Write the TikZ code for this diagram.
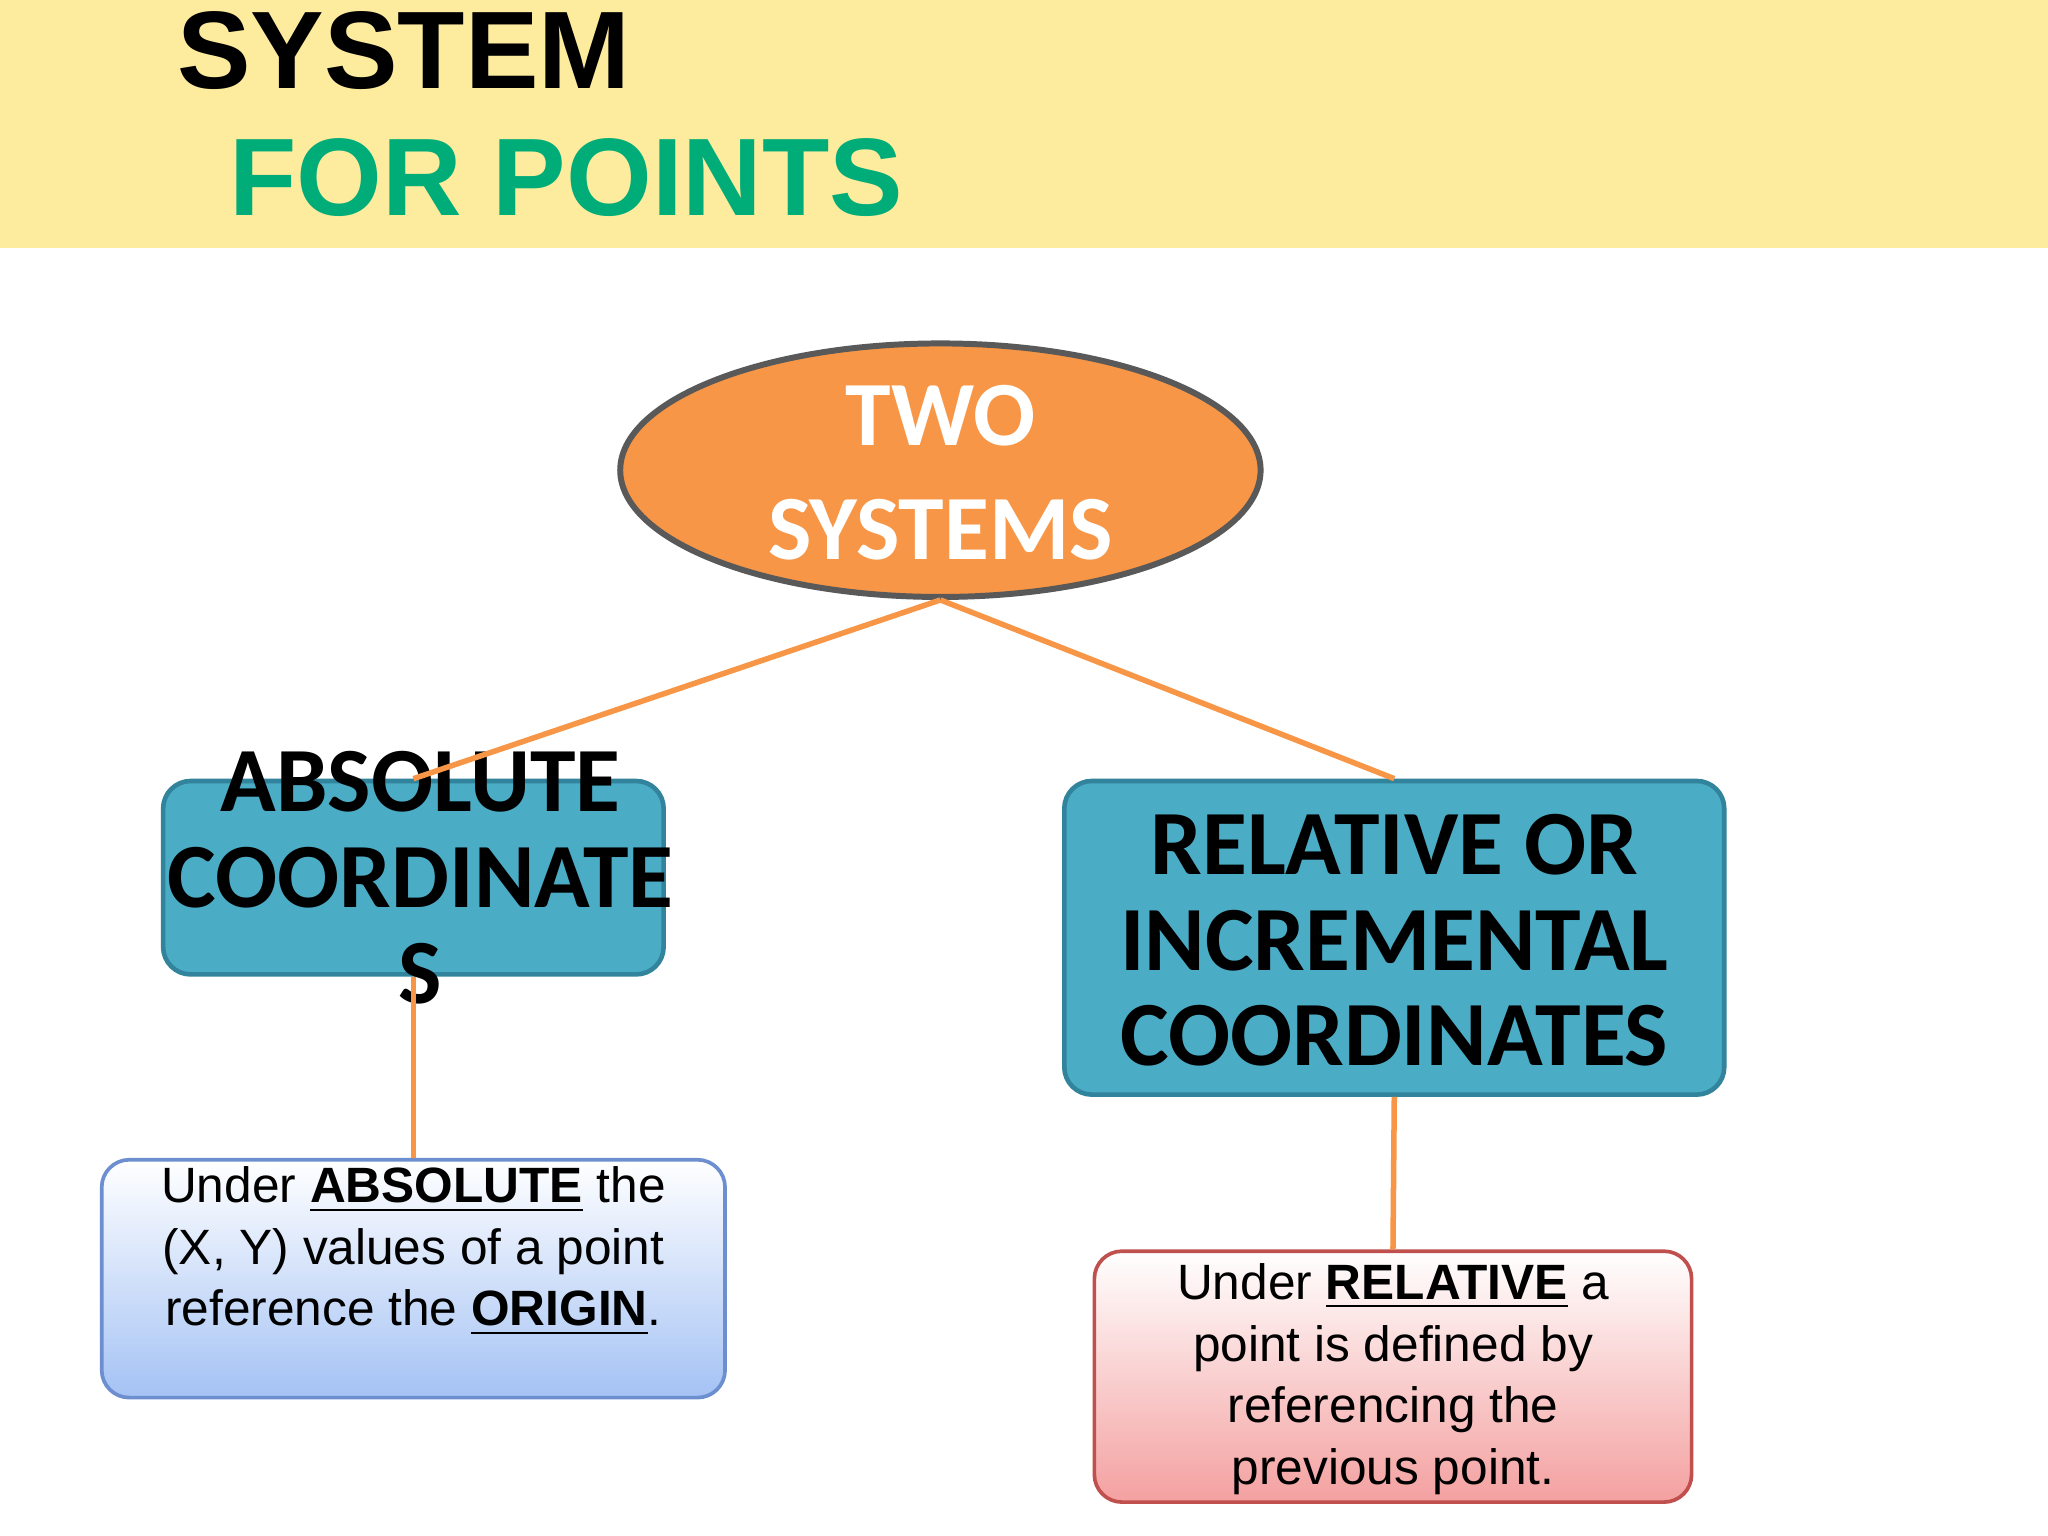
\documentclass[tikz,border=0pt]{standalone}
\usepackage{fontspec}
\setmainfont{Liberation Sans}
\newfontfamily\carlfont{Carlito}
\usetikzlibrary{shapes.geometric}
\definecolor{band}{HTML}{FEEC9E}
\definecolor{grn}{HTML}{00AC78}
\definecolor{org}{HTML}{F79646}
\definecolor{tealf}{HTML}{4BACC6}
\definecolor{tealb}{HTML}{31849B}
\definecolor{blu}{HTML}{A4C2F4}
\definecolor{blub}{HTML}{6D8FD0}
\definecolor{pnk}{HTML}{F4A0A0}
\definecolor{pnkb}{HTML}{C0504D}
\tikzset{
  conn/.style={draw=org,line width=1.2pt},
  tbox/.style={draw=tealb,fill=tealf,line width=1pt,rounded corners=6pt,inner sep=0pt},
  ttext/.style={font=\carlfont\bfseries\fontsize{20}{20.8}\selectfont,align=center},
  nbox/.style={rounded corners=6pt,line width=0.8pt,inner sep=0pt},
  ntext/.style={font=\fontsize{10.8}{13.4}\selectfont,align=center}
}
\begin{document}
\begin{tikzpicture}[x=0.01cm,y=-0.01cm]
\useasboundingbox (0,0) rectangle (1568,1176);
\fill[white] (0,0) rectangle (1568,1176);
\fill[band] (0,0) rectangle (1568,190);
\node[anchor=base west,inner sep=0pt,font=\bfseries\fontsize{24}{24}\selectfont] (t1) at (135,68) {SYSTEM};
\node[anchor=base west,inner sep=0pt,font=\bfseries\fontsize{24}{24}\selectfont,text=grn] (t2) at (175,165) {FOR POINTS};
\node[ellipse,draw=black!65,line width=1.3pt,fill=org,minimum width=4.9cm,minimum height=1.94cm,inner sep=0pt] (e) at (720,360) {};
\node[ttext,text=white] (et) at (720,362) {TWO\\[4pt]SYSTEMS};
\node[tbox,minimum width=3.83cm,minimum height=1.48cm] (a) at (316.5,672) {};
\node[ttext] (at) at (322,672) {ABSOLUTE\\COORDINATE\\S};
\node[tbox,minimum width=5.05cm,minimum height=2.4cm] (r) at (1067.5,718) {};
\node[ttext] (rt) at (1067.5,720) {RELATIVE OR\\INCREMENTAL\\COORDINATES};
\draw[conn] (e.south) -- (a.north);
\draw[conn] (e.south) -- (r.north);
\node[nbox,draw=blub,top color=white,bottom color=blu,minimum width=4.77cm,minimum height=1.82cm] (b1) at (316.5,979) {};
\node[ntext] (b1t) at (316.5,958) {Under \textbf{\underline{ABSOLUTE}} the\\(X, Y) values of a point\\reference the \textbf{\underline{ORIGIN}}.};
\node[nbox,draw=pnkb,top color=white,bottom color=pnk,minimum width=4.57cm,minimum height=1.92cm] (b2) at (1066.5,1054) {};
\node[ntext] (b2t) at (1066.5,1056) {Under \textbf{\underline{RELATIVE}} a\\point is defined by\\referencing the\\previous point.};
\draw[conn] (a.south) -- (b1.north);
\draw[conn] (r.south) -- (b2.north);
\end{tikzpicture}
\end{document}
